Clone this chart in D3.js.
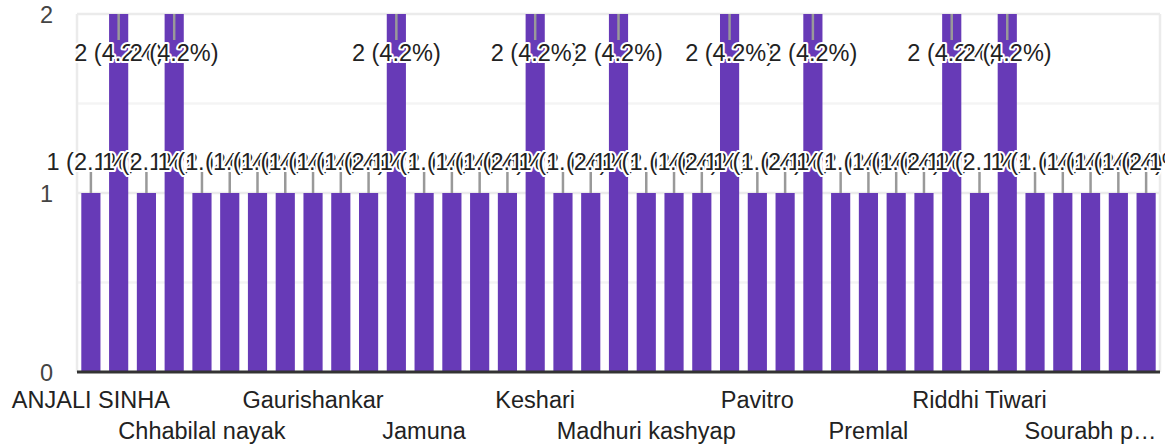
<!DOCTYPE html>
<html>
<head>
<meta charset="utf-8">
<script src="https://cdn.jsdelivr.net/npm/d3@7"></script>
<style>
  html, body { margin: 0; padding: 0; background: #fff; }
  svg { display: block; }
  text { font-family: "Liberation Sans", Arial, sans-serif; }
</style>
</head>
<body>
<svg id="chart" width="1165" height="448"></svg>
<script>
// Responses per name (one bar per respondent name)
const categories = [
  "ANJALI SINHA", "Bhagwati", "Bharti Sahu", "Bhupendra", "Chhabilal nayak",
  "Deepak Yadav", "Devki", "Durga Sahu", "Gaurishankar", "Geeta Verma",
  "Hemlata", "Indu Sinha", "Jamuna", "Janki bai", "Kamla",
  "Kavita Patel", "Keshari", "Lalita", "Laxmi Nishad", "Lokesh Sahu",
  "Madhuri kashyap", "Manisha", "Meena Dhruw", "Neha Tandon", "Pavitro",
  "Pooja Sahu", "Prakash", "Pramila", "Premlal", "Priya Verma",
  "Rajesh", "Rekha", "Riddhi Tiwari", "Rohit Sen", "Sanjay",
  "Savita", "Sourabh prajapati", "Sunita", "Tulsi"
];
const responses = [
  1, 2, 1, 2, 1, 1, 1, 1, 1, 1,
  1, 2, 1, 1, 1, 1, 2, 1, 1, 2,
  1, 1, 1, 2, 1, 1, 2, 1, 1, 1,
  1, 2, 1, 2, 1, 1, 1, 1, 1
];
const yMajorTicks = [0, 1, 2];
const yMinorTicks = [0.5, 1.5];
const labelEvery = 4;

const W = 1165, H = 448;
const plot = { left: 77, right: 1160, top: 14, bottom: 372 };
const FONT = 23.5;
const total = d3.sum(responses);
const data = categories.map((c, i) => ({ name: c, value: responses[i], i }));

const svg = d3.select("#chart");

const x = d3.scaleBand()
  .domain(categories)
  .range([plot.left, plot.right])
  .paddingInner(0.31)
  .paddingOuter(0.155);

const y = d3.scaleLinear()
  .domain([0, d3.max(yMajorTicks)])
  .range([plot.bottom, plot.top]);

// Gridlines
svg.append("g").selectAll("line").data(yMinorTicks).join("line")
  .attr("x1", plot.left).attr("x2", plot.right)
  .attr("y1", d => y(d)).attr("y2", d => y(d))
  .attr("stroke", "#f4f4f4").attr("stroke-width", 2.5);

svg.append("g").selectAll("line").data(yMajorTicks.filter(d => d > 0)).join("line")
  .attr("x1", plot.left).attr("x2", plot.right)
  .attr("y1", d => y(d)).attr("y2", d => y(d))
  .attr("stroke", "#ebebeb").attr("stroke-width", 2.5);

// Side frame lines
svg.append("g").selectAll("line").data([plot.left, plot.right]).join("line")
  .attr("x1", d => d).attr("x2", d => d)
  .attr("y1", plot.top).attr("y2", plot.bottom)
  .attr("stroke", "#ebebeb").attr("stroke-width", 2.5);

// Bars
svg.append("g").selectAll("rect").data(data).join("rect")
  .attr("x", d => x(d.name))
  .attr("width", x.bandwidth())
  .attr("y", d => y(d.value))
  .attr("height", d => y(0) - y(d.value))
  .attr("fill", "#673ab7");

// Baseline
svg.append("line")
  .attr("x1", plot.left).attr("x2", plot.right)
  .attr("y1", y(0)).attr("y2", y(0))
  .attr("stroke", "#333").attr("stroke-width", 3);

// Y axis labels
const yAxis = d3.axisLeft(y).tickValues(yMajorTicks).tickSize(0).tickPadding(0)
  .tickFormat(d3.format("d"));
const gy = svg.append("g").attr("transform", "translate(53,0)").call(yAxis);
gy.select(".domain").remove();
gy.selectAll("text")
  .attr("font-size", FONT).attr("fill", "#444")
  .attr("font-family", "'Liberation Sans', Arial, sans-serif")
  .attr("dy", "0.36em");

// Annotations: stem + value label with white halo
const stemLen = 22;
const capH = FONT * 0.716;
const pct = d3.format(".1f");
const ann = data.map(d => {
  const top = y(d.value);
  const cx = x(d.name) + x.bandwidth() / 2;
  const outside = top - stemLen - 3 - capH >= plot.top;
  return outside
    ? { cx, s1: top, s2: top - 21, base: top - 23, d }
    : { cx, s1: top, s2: top + 26, base: top + 26 + 4 + capH, d };
});

svg.append("g").selectAll("line").data(ann).join("line")
  .attr("x1", a => a.cx).attr("x2", a => a.cx)
  .attr("y1", a => a.s1).attr("y2", a => a.s2)
  .attr("stroke", "#999").attr("stroke-width", 2.5);

svg.append("g").selectAll("text").data(ann).join("text")
  .attr("x", a => a.cx).attr("y", a => a.base)
  .attr("text-anchor", "middle")
  .attr("font-size", FONT)
  .attr("fill", "#222")
  .attr("stroke", "#fff").attr("stroke-width", 4)
  .attr("stroke-linejoin", "round")
  .attr("paint-order", "stroke")
  .text(a => `${a.d.value} (${pct(a.d.value / total * 100)}%)`);

// X axis labels: every 4th name, staggered over two rows
const rowBase = [408, 439];
const xl = svg.append("g");
data.filter(d => d.i % labelEvery === 0).forEach((d, k) => {
  const cx = x(d.name) + x.bandwidth() / 2;
  const t = xl.append("text")
    .attr("x", cx).attr("y", rowBase[k % 2])
    .attr("text-anchor", "middle")
    .attr("font-size", FONT).attr("fill", "#222")
    .text(d.name);
  // shorten names that would run past the chart's right edge
  let s = d.name;
  const limit = plot.right - 2;
  while (cx + t.node().getComputedTextLength() / 2 > limit && s.length > 1) {
    s = s.slice(0, -1);
    t.text(s.trimEnd() + "…");
  }
});
</script>
</body>
</html>
